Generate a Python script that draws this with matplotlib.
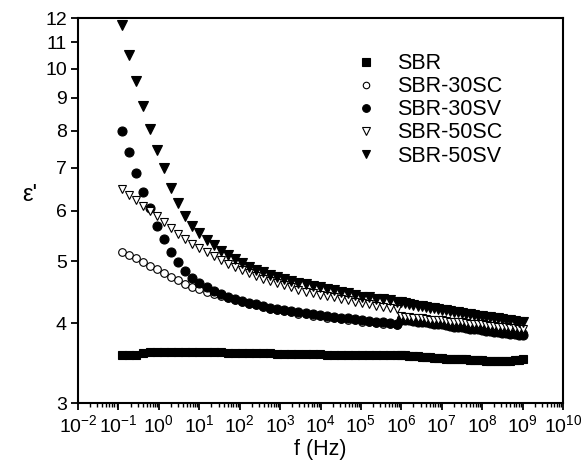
import numpy as np
import matplotlib
matplotlib.use("Agg")
import matplotlib.pyplot as plt
from matplotlib.ticker import LogLocator, NullLocator, FixedLocator, FixedFormatter

plt.rcParams['font.family'] = ['Liberation Sans', 'DejaVu Sans']
plt.rcParams['mathtext.fontset'] = 'custom'
plt.rcParams['mathtext.rm'] = 'Liberation Sans'
plt.rcParams['mathtext.it'] = 'Liberation Sans'

# frequency grid (log10 Hz): sparse low-frequency sweep + dense high-frequency sweep
logf_low = np.linspace(-0.92, 5.905, 40)
logf_high = np.linspace(6.0, 9.0, 31)

# permittivity values
sbr_low = [3.56, 3.56, 3.57, 3.59, 3.60, 3.60, 3.60, 3.61, 3.60, 3.60,
           3.60, 3.60, 3.60, 3.60, 3.60, 3.59, 3.59, 3.59, 3.59, 3.59,
           3.59, 3.59, 3.58, 3.58, 3.58, 3.58, 3.58, 3.58, 3.58, 3.57,
           3.57, 3.57, 3.57, 3.57, 3.57, 3.57, 3.57, 3.57, 3.57, 3.57]
sbr_high = [3.56, 3.56, 3.55, 3.55, 3.55, 3.54, 3.54, 3.54, 3.53, 3.53,
            3.53, 3.52, 3.52, 3.52, 3.51, 3.51, 3.51, 3.50, 3.50, 3.50,
            3.50, 3.49, 3.49, 3.49, 3.49, 3.49, 3.49, 3.49, 3.50, 3.50, 3.51]

sc30_low = [5.17, 5.11, 5.06, 4.99, 4.92, 4.86, 4.79, 4.72, 4.67, 4.61,
            4.56, 4.52, 4.48, 4.44, 4.41, 4.38, 4.35, 4.32, 4.29, 4.27,
            4.24, 4.21, 4.19, 4.18, 4.16, 4.14, 4.13, 4.11, 4.10, 4.08,
            4.07, 4.06, 4.05, 4.04, 4.02, 4.01, 4.00, 3.99, 3.98, 3.97]
sc30_high = [4.07, 4.06, 4.06, 4.05, 4.04, 4.04, 4.03, 4.02, 4.02, 4.01,
             4.00, 4.00, 3.99, 3.98, 3.98, 3.97, 3.96, 3.95, 3.95, 3.94,
             3.93, 3.93, 3.92, 3.91, 3.91, 3.90, 3.89, 3.89, 3.88, 3.87, 3.86]

sv30_low = [7.99, 7.41, 6.87, 6.41, 6.05, 5.67, 5.41, 5.17, 4.99, 4.83,
            4.71, 4.62, 4.55, 4.49, 4.44, 4.40, 4.36, 4.33, 4.30, 4.28,
            4.25, 4.23, 4.21, 4.20, 4.18, 4.16, 4.15, 4.13, 4.12, 4.10,
            4.09, 4.08, 4.07, 4.06, 4.04, 4.03, 4.02, 4.01, 4.00, 3.99]
sv30_high = [4.05, 4.04, 4.04, 4.03, 4.02, 4.01, 4.01, 4.00, 3.99, 3.98,
             3.98, 3.97, 3.96, 3.95, 3.95, 3.94, 3.93, 3.92, 3.92, 3.91,
             3.90, 3.89, 3.89, 3.88, 3.87, 3.86, 3.86, 3.85, 3.84, 3.83, 3.83]

sc50_low = [6.48, 6.35, 6.23, 6.10, 5.99, 5.88, 5.76, 5.63, 5.51, 5.41,
            5.32, 5.24, 5.17, 5.09, 5.02, 4.95, 4.90, 4.84, 4.79, 4.74,
            4.69, 4.66, 4.62, 4.59, 4.55, 4.51, 4.48, 4.46, 4.43, 4.41,
            4.39, 4.36, 4.34, 4.32, 4.30, 4.28, 4.26, 4.24, 4.23, 4.21]
sc50_high = [4.10, 4.09, 4.09, 4.08, 4.07, 4.07, 4.06, 4.05, 4.05, 4.04,
             4.04, 4.03, 4.02, 4.02, 4.01, 4.01, 4.00, 3.99, 3.99, 3.98,
             3.98, 3.97, 3.96, 3.96, 3.95, 3.95, 3.94, 3.93, 3.93, 3.92, 3.92]

sv50_low = [11.70, 10.50, 9.57, 8.73, 8.05, 7.46, 6.98, 6.51, 6.17, 5.88,
            5.68, 5.53, 5.40, 5.29, 5.19, 5.11, 5.03, 4.96, 4.90, 4.85,
            4.80, 4.76, 4.72, 4.69, 4.66, 4.62, 4.60, 4.57, 4.55, 4.52,
            4.50, 4.48, 4.45, 4.43, 4.40, 4.39, 4.37, 4.36, 4.34, 4.32]
sv50_high = [4.32, 4.30, 4.29, 4.27, 4.26, 4.25, 4.24, 4.23, 4.22, 4.21,
             4.20, 4.19, 4.18, 4.17, 4.16, 4.15, 4.14, 4.13, 4.12, 4.11,
             4.10, 4.09, 4.09, 4.08, 4.07, 4.06, 4.05, 4.04, 4.03, 4.02, 4.02]

labels = ['SBR', 'SBR-30SC', 'SBR-30SV', 'SBR-50SC', 'SBR-50SV']
series = [(sbr_low, sbr_high), (sc30_low, sc30_high), (sv30_low, sv30_high),
          (sc50_low, sc50_high), (sv50_low, sv50_high)]
markers = ['s', 'o', 'o', 'v', 'v']
filled = [True, False, True, False, True]
sizes = [6.0, 5.5, 6.5, 6.0, 7.0]

freq = 10 ** np.concatenate([logf_low, logf_high])

fig = plt.figure(figsize=(5.86, 4.68), dpi=100)
ax = fig.add_axes([78/586, 65/468, 485/586, 385/468])

for (lo, hi), lab, m, f, s in zip(series, labels, markers, filled, sizes):
    eps = np.concatenate([lo, hi])
    ax.plot(freq, eps, linestyle='none', marker=m, markersize=s,
            markerfacecolor='black' if f else 'white',
            markeredgecolor='black', markeredgewidth=0.8, label=lab)

ax.set_xscale('log')
ax.set_yscale('log')
ax.set_xlim(1e-2, 1e10)
ax.set_ylim(3, 12)

ax.xaxis.set_major_locator(LogLocator(base=10, numticks=20))
ax.xaxis.set_minor_locator(LogLocator(base=10, subs=np.arange(2, 10), numticks=20))
yt = [3, 4, 5, 6, 7, 8, 9, 10, 11, 12]
ax.yaxis.set_major_locator(FixedLocator(yt))
ax.yaxis.set_major_formatter(FixedFormatter([str(v) for v in yt]))
ax.yaxis.set_minor_locator(NullLocator())

ax.tick_params(which='major', direction='out', length=5, width=1.3,
               labelsize=14, top=False, right=False, pad=3)
ax.tick_params(which='minor', direction='out', length=3, width=1.0,
               top=False, right=False)
for sp in ax.spines.values():
    sp.set_linewidth(1.5)

ax.set_xlabel('f (Hz)', fontsize=15.5, labelpad=2)
ax.set_ylabel("ε'", fontsize=17, rotation=0, va='center', ha='center')
ax.yaxis.set_label_coords(-0.10, 0.54)

ax.legend(loc='upper left', bbox_to_anchor=(0.571, 0.909), frameon=False,
          fontsize=15.5, borderaxespad=0, borderpad=0, handlelength=1.0,
          handletextpad=0.95, labelspacing=0.1, markerscale=0.85)

fig.savefig('out.png', dpi=100)
